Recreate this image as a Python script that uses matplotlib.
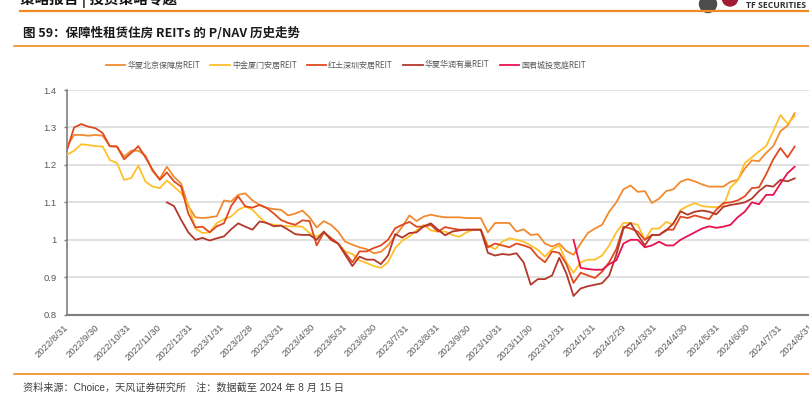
import matplotlib
matplotlib.use('Agg')
import matplotlib.pyplot as plt
import matplotlib.patches as mpatches
import matplotlib.transforms as mtransforms
from matplotlib.lines import Line2D
from matplotlib.font_manager import FontProperties
import pandas as pd

W, H, DPI = 809, 397, 100

# ---------------- data (weekly observations) ----------------
start_date = '2022-08-31'
n_weeks = 103
dates = pd.date_range(start_date, periods=n_weeks, freq='7D')

series_names = ['华夏北京保障房REIT', '中金厦门安居REIT', '红土深圳安居REIT',
                '华夏华润有巢REIT', '国君城投宽庭REIT']
series_colors = ['#F28A2E', '#FFC12B', '#E04A1E', '#B2382C', '#E8124F']

beijing = [1.25, 1.28, 1.28, 1.278, 1.28, 1.278, 1.25, 1.249, 1.222, 1.238,
           1.238, 1.225, 1.183, 1.163, 1.195, 1.168, 1.15, 1.09, 1.06, 1.058,
           1.06, 1.063, 1.105, 1.102, 1.12, 1.124, 1.105, 1.093, 1.085, 1.082,
           1.08, 1.065, 1.07, 1.078, 1.06, 1.033, 1.05, 1.04, 1.022, 0.995,
           0.987, 0.98, 0.975, 0.964, 0.968, 0.985, 1.01, 1.035, 1.065, 1.05,
           1.062, 1.067, 1.063, 1.06, 1.06, 1.06, 1.058, 1.058, 1.058, 1.02,
           1.045, 1.045, 1.045, 1.022, 1.028, 1.013, 1.015, 0.99, 0.982, 0.99,
           0.97, 0.96, 0.99, 1.018, 1.03, 1.04, 1.075, 1.1, 1.135, 1.145,
           1.128, 1.13, 1.098, 1.11, 1.13, 1.135, 1.155, 1.162, 1.156, 1.148,
           1.142, 1.142, 1.142, 1.155, 1.16, 1.19, 1.212, 1.21, 1.232, 1.25,
           1.29, 1.305, 1.338]

xiamen = [1.227, 1.238, 1.255, 1.253, 1.25, 1.249, 1.213, 1.205, 1.16, 1.165,
          1.198, 1.155, 1.142, 1.138, 1.158, 1.142, 1.125, 1.095, 1.03, 1.018,
          1.02, 1.045, 1.055, 1.062, 1.08, 1.089, 1.08, 1.06, 1.044, 1.04,
          1.038, 1.036, 1.036, 1.035, 1.018, 1.008, 1.02, 1.0, 0.99, 0.969,
          0.962, 0.945, 0.938, 0.93, 0.925, 0.94, 0.978, 0.998, 1.009, 1.025,
          1.04, 1.025, 1.022, 1.022, 1.013, 1.008, 1.02, 1.027, 1.027, 0.985,
          0.975, 0.995, 1.004, 1.0, 0.995, 0.985, 0.973, 0.955, 0.975, 0.985,
          0.94, 0.912, 0.94, 0.947, 0.947, 0.958, 0.985, 1.02, 1.045, 1.045,
          1.04, 1.0, 1.03, 1.03, 1.048, 1.04, 1.08, 1.09, 1.098, 1.09,
          1.088, 1.087, 1.09, 1.14, 1.158, 1.205, 1.22, 1.236, 1.25, 1.29,
          1.333, 1.31, 1.33]

shenzhen = [1.24, 1.30, 1.309, 1.302, 1.298, 1.285, 1.25, 1.249, 1.215, 1.232,
            1.25, 1.22, 1.187, 1.16, 1.18, 1.156, 1.142, 1.07, 1.033, 1.035,
            1.02, 1.036, 1.044, 1.09, 1.116, 1.089, 1.086, 1.093, 1.085, 1.07,
            1.053, 1.045, 1.04, 1.052, 1.05, 0.985, 1.02, 1.005, 0.99, 0.965,
            0.94, 0.969, 0.969, 0.978, 0.985, 1.0, 1.031, 1.04, 1.048, 1.035,
            1.035, 1.04, 1.022, 1.034, 1.03, 1.027, 1.027, 1.027, 1.027, 0.98,
            0.99, 0.985, 0.98, 0.99, 0.985, 0.978, 0.955, 0.94, 0.969, 0.965,
            0.935, 0.885, 0.912, 0.905, 0.898, 0.915, 0.94, 0.975, 1.035, 1.03,
            1.022, 1.0, 1.013, 1.013, 1.027, 1.027, 1.062, 1.058, 1.065, 1.06,
            1.055, 1.08, 1.098, 1.1, 1.105, 1.116, 1.138, 1.14, 1.175, 1.215,
            1.245, 1.22, 1.249]

youchao_start = 14   # listed in Dec 2022
youchao = [1.10, 1.09, 1.053, 1.02, 1.0, 1.005,
           0.998, 1.004, 1.009, 1.028, 1.044, 1.035, 1.027, 1.049, 1.045, 1.036,
           1.038, 1.027, 1.015, 1.013, 1.013, 1.0, 1.022, 1.0, 0.99, 0.96,
           0.93, 0.955, 0.947, 0.947, 0.935, 0.958, 1.015, 1.006, 1.018, 1.02,
           1.036, 1.044, 1.027, 1.012, 1.022, 1.025, 1.027, 1.027, 1.027, 0.965,
           0.958, 0.962, 0.96, 0.964, 0.94, 0.88, 0.895, 0.895, 0.905, 0.952,
           0.91, 0.85, 0.87, 0.876, 0.88, 0.884, 0.905, 0.96, 1.03, 1.045,
           1.013, 0.985, 1.013, 1.013, 1.025, 1.044, 1.076, 1.067, 1.075, 1.078,
           1.075, 1.068, 1.088, 1.093, 1.096, 1.1, 1.11, 1.13, 1.145, 1.142,
           1.16, 1.156, 1.164]

kuanting_start = 71  # listed in Jan 2024
kuanting = [1.0, 0.925, 0.922, 0.92, 0.92, 0.935, 0.945, 0.99, 1.0,
            1.0, 0.98, 0.985, 0.995, 0.985, 0.985, 1.0, 1.01, 1.02, 1.03,
            1.036, 1.032, 1.035, 1.04, 1.06, 1.075, 1.1, 1.095, 1.12, 1.12,
            1.15, 1.178, 1.195]

x_tick_labels = ['2022/8/31', '2022/9/30', '2022/10/31', '2022/11/30', '2022/12/31',
                 '2023/1/31', '2023/2/28', '2023/3/31', '2023/4/30', '2023/5/31',
                 '2023/6/30', '2023/7/31', '2023/8/31', '2023/9/30', '2023/10/31',
                 '2023/11/30', '2023/12/31', '2024/1/31', '2024/2/29', '2024/3/31',
                 '2024/4/30', '2024/5/31', '2024/6/30', '2024/7/31', '2024/8/31']
y_ticks = [0.8, 0.9, 1.0, 1.1, 1.2, 1.3, 1.4]
y_tick_labels = ['0.8', '0.9', '1', '1.1', '1.2', '1.3', '1.4']

title_text = '图 59：保障性租赁住房 REITs 的 P/NAV 历史走势'
header_text = '策略报告 | 投资策略专题'
source_text = '资料来源：Choice，天风证券研究所　注：数据截至 2024 年 8 月 15 日'

# ---------------- figure ----------------
fig = plt.figure(figsize=(W / DPI, H / DPI), dpi=DPI)
fig.patch.set_facecolor('white')

def fx(px):
    return px / W

def fy(py):
    return 1 - py / H

CJK = 'Noto Sans CJK SC'
ORANGE = '#F08A24'

# header
fig.text(fx(20), fy(8), header_text, family=[CJK], fontsize=10.5, weight='bold',
         color='#111111', ha='left', va='bottom')
fig.add_artist(Line2D([fx(20), 1.0], [fy(11), fy(11)], color=ORANGE, lw=1.6,
                      transform=fig.transFigure))
# logo
fig.add_artist(mpatches.Ellipse((fx(708), fy(4)), 17 / W, 17 / H, color='#4D4D4D',
                                transform=fig.transFigure))
fig.add_artist(mpatches.Ellipse((fx(730), fy(-1)), 15 / W, 14 / H, color='#A01C34',
                                transform=fig.transFigure))
fig.text(fx(806), fy(5), 'TF SECURITIES', family=['Open Sans', 'DejaVu Sans'],
         fontsize=6.3, weight='bold', color='#333333', ha='right', va='center')

# title
fig.text(fx(23), fy(33), title_text, family=[CJK], fontsize=9, weight='bold',
         color='#1A1A1A', ha='left', va='center')
fig.add_artist(Line2D([fx(14), 1.0], [fy(46), fy(46)], color=ORANGE, lw=1.2,
                      transform=fig.transFigure))

# footer
fig.add_artist(Line2D([fx(14), 1.0], [fy(374), fy(374)], color=ORANGE, lw=1.2,
                      transform=fig.transFigure))
fig.text(fx(23), fy(388), source_text, family=['Liberation Sans', CJK], fontsize=7.3,
         color='#404040', ha='left', va='center')

# axes
ax_left, ax_right, ax_top, ax_bottom = 67, 812, 90, 314.7
ax = fig.add_axes([fx(ax_left), fy(ax_bottom), (ax_right - ax_left) / W,
                   (ax_bottom - ax_top) / H])
ax.set_facecolor('white')

series_values = [beijing, xiamen, shenzhen, youchao, kuanting]
series_starts = [0, 0, 0, youchao_start, kuanting_start]
for name, vals, st, col in zip(series_names, series_values, series_starts, series_colors):
    d = dates[st:st + len(vals)]
    ax.plot(d, vals, color=col, lw=1.3, solid_joinstyle='round', label=name, zorder=3)

tick_dates = pd.to_datetime(x_tick_labels, format='%Y/%m/%d')
ax.set_xlim(tick_dates[0], tick_dates[-1])
ax.set_ylim(0.8, 1.4)
ax.set_yticks(y_ticks)
ax.set_yticklabels(y_tick_labels)
ax.set_xticks(tick_dates)
ax.set_xticklabels(x_tick_labels, rotation=45, ha='right', va='center',
                   rotation_mode='anchor')
offset = mtransforms.ScaledTranslation(-3 / DPI, 0, fig.dpi_scale_trans)
for lbl in ax.get_xticklabels():
    lbl.set_transform(lbl.get_transform() + offset)

for lbl in ax.get_xticklabels() + ax.get_yticklabels():
    lbl.set_fontfamily(['Liberation Sans'])
    lbl.set_fontsize(6.8)
    lbl.set_color('#595959')

ax.tick_params(axis='x', length=0, pad=8)
ax.tick_params(axis='y', length=2.5, width=1, color='#7F7F7F', pad=5)
ax.grid(axis='y', color='#D9D9D9', lw=1.1, zorder=0)
ax.set_axisbelow(True)
for s in ['top', 'right']:
    ax.spines[s].set_visible(False)
ax.spines['left'].set_color('#7F7F7F')
ax.spines['left'].set_linewidth(1.2)
ax.spines['bottom'].set_color('#7F7F7F')
ax.spines['bottom'].set_linewidth(1.5)

# legend
handles = [Line2D([0], [0], color=c, lw=1.3) for c in series_colors]
leg = ax.legend(handles, series_names, ncol=5, loc='center left',
                bbox_to_anchor=(fx(106), fy(65)), bbox_transform=fig.transFigure,
                frameon=False, prop=FontProperties(family=CJK, size=5.8),
                handlelength=2.4, handletextpad=0.25, columnspacing=1.3,
                borderpad=0, borderaxespad=0)
for t in leg.get_texts():
    t.set_color('#595959')

fig.savefig('out.png', dpi=DPI, facecolor='white')
